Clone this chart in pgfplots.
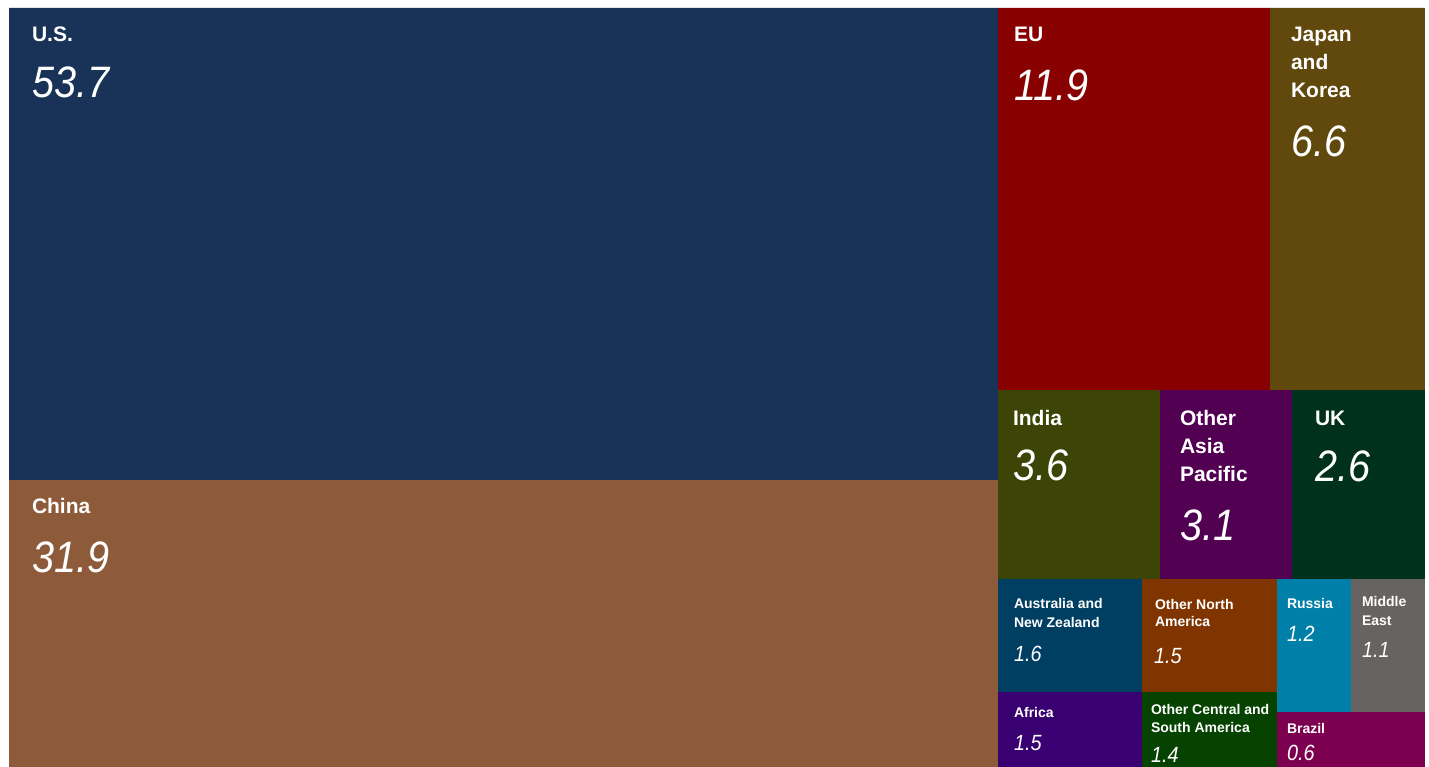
\documentclass[border=0pt]{standalone}
\usepackage{pgfplots}
\pgfplotsset{compat=1.18}
\usepackage{fontspec}
\setmainfont{Liberation Sans}
\newfontfamily\valfont{Liberation Sans}[FakeStretch=0.9]
\definecolor{cUS}{HTML}{193358}
\definecolor{cCN}{HTML}{8E5B3A}
\definecolor{cEU}{HTML}{880000}
\definecolor{cJK}{HTML}{61480C}
\definecolor{cIN}{HTML}{3C4505}
\definecolor{cAP}{HTML}{520052}
\definecolor{cUK}{HTML}{00311C}
\definecolor{cAU}{HTML}{003E62}
\definecolor{cNA}{HTML}{803500}
\definecolor{cRU}{HTML}{0080A8}
\definecolor{cME}{HTML}{676360}
\definecolor{cAF}{HTML}{380070}
\definecolor{cCS}{HTML}{064300}
\definecolor{cBR}{HTML}{7D0050}
\tikzset{lb/.style={text=white, inner sep=0pt, outer sep=0pt, anchor=base west}}
\newcommand{\lab}[1]{{\fontsize{21}{25}\selectfont\bfseries #1}}
\newcommand{\slab}[1]{{\fontsize{14}{17}\selectfont\bfseries #1}}
\newcommand{\val}[1]{{\valfont\fontsize{44}{48}\selectfont\itshape #1}}
\newcommand{\sval}[1]{{\valfont\fontsize{22}{26}\selectfont\itshape #1}}
\newcommand{\rect}[5]{\addplot[fill=#1, draw=#1, line width=0.4pt] coordinates {(#2,#3) (#4,#3) (#4,#5) (#2,#5) (#2,#3)};}
\begin{document}
\begin{tikzpicture}
\begin{axis}[scale only axis, width=1429pt, height=767pt,
  xmin=0, xmax=1429, ymin=0, ymax=767, y dir=reverse,
  hide axis, clip=false]
\rect{cUS}{9}{8}{998}{480}
\rect{cCN}{9}{480}{998}{767}
\rect{cEU}{998}{8}{1270}{390}
\rect{cJK}{1270}{8}{1424}{390}
\rect{cIN}{998}{390}{1160}{579}
\rect{cAP}{1160}{390}{1292}{579}
\rect{cUK}{1292}{390}{1424}{579}
\rect{cAU}{998}{579}{1142}{692}
\rect{cAF}{998}{692}{1142}{767}
\rect{cNA}{1142}{579}{1277}{692}
\rect{cCS}{1142}{692}{1277}{767}
\rect{cRU}{1277}{579}{1351}{712}
\rect{cME}{1351}{579}{1424}{712}
\rect{cBR}{1277}{712}{1424}{767}
% labels
\node[lb] at (axis cs:32,42) {\lab{U.S.}};
\node[lb] at (axis cs:32,98) {\val{53.7}};
\node[lb] at (axis cs:32,513) {\lab{China}};
\node[lb] at (axis cs:32,572) {\val{31.9}};
\node[lb] at (axis cs:1014,42) {\lab{EU}};
\node[lb] at (axis cs:1014,101) {\val{11.9}};
\node[lb] at (axis cs:1291,42) {\lab{Japan}};
\node[lb] at (axis cs:1291,70) {\lab{and}};
\node[lb] at (axis cs:1291,98) {\lab{Korea}};
\node[lb] at (axis cs:1291,157) {\val{6.6}};
\node[lb] at (axis cs:1013,425) {\lab{India}};
\node[lb] at (axis cs:1013,480) {\val{3.6}};
\node[lb] at (axis cs:1180,425) {\lab{Other}};
\node[lb] at (axis cs:1180,453) {\lab{Asia}};
\node[lb] at (axis cs:1180,481) {\lab{Pacific}};
\node[lb] at (axis cs:1180,540) {\val{3.1}};
\node[lb] at (axis cs:1315,425) {\lab{UK}};
\node[lb] at (axis cs:1315,481) {\val{2.6}};
\node[lb] at (axis cs:1014,608) {\slab{Australia and}};
\node[lb] at (axis cs:1014,627) {\slab{New Zealand}};
\node[lb] at (axis cs:1014,661) {\sval{1.6}};
\node[lb] at (axis cs:1155,609) {\slab{Other North}};
\node[lb] at (axis cs:1155,626) {\slab{America}};
\node[lb] at (axis cs:1154,663) {\sval{1.5}};
\node[lb] at (axis cs:1287,608) {\slab{Russia}};
\node[lb] at (axis cs:1287,641) {\sval{1.2}};
\node[lb] at (axis cs:1362,606) {\slab{Middle}};
\node[lb] at (axis cs:1362,625) {\slab{East}};
\node[lb] at (axis cs:1362,657) {\sval{1.1}};
\node[lb] at (axis cs:1014,717) {\slab{Africa}};
\node[lb] at (axis cs:1014,750) {\sval{1.5}};
\node[lb] at (axis cs:1151,714) {\slab{Other Central and}};
\node[lb] at (axis cs:1151,732) {\slab{South America}};
\node[lb] at (axis cs:1151,762) {\sval{1.4}};
\node[lb] at (axis cs:1287,733) {\slab{Brazil}};
\node[lb] at (axis cs:1287,760) {\sval{0.6}};
\end{axis}
\pgfresetboundingbox
\useasboundingbox (current axis.south west) rectangle (current axis.north east);
\end{tikzpicture}
\end{document}
